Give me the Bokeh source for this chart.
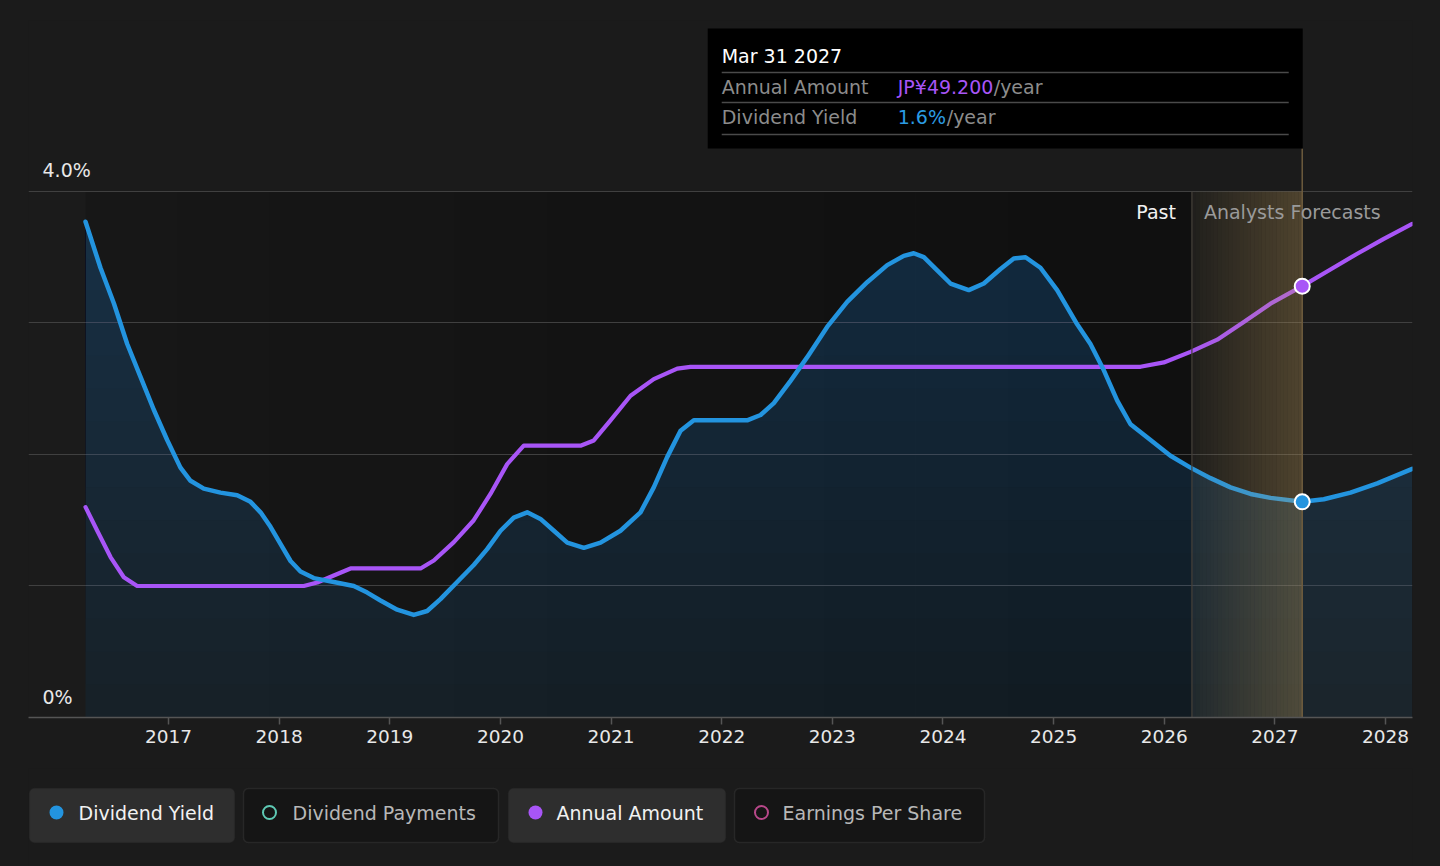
import numpy as np
from bokeh.plotting import figure
from bokeh.models import Range1d, FixedTicker, Grid, ColumnDataSource, BoxAnnotation
from bokeh.layouts import column
from bokeh.core.properties import value
from bokeh.embed import file_html
from bokeh.resources import INLINE

# ---------------- data ----------------
year_ticks = list(range(2017, 2029))
yield_ticks = [0, 1, 2, 3, 4]
yield_label_ticks = [0, 4]
yield_tick_labels = ["0%", "4.0%"]

yield_dates = [2016.250, 2016.385, 2016.506, 2016.627, 2016.747, 2016.867, 2016.988, 2017.108,
               2017.199, 2017.319, 2017.470, 2017.621, 2017.741, 2017.832, 2017.922, 2018.012,
               2018.103, 2018.193, 2018.313, 2018.494, 2018.675, 2018.796, 2018.916, 2019.067,
               2019.217, 2019.338, 2019.458, 2019.609, 2019.759, 2019.880, 2020.001, 2020.121,
               2020.242, 2020.362, 2020.483, 2020.604, 2020.754, 2020.905, 2021.085, 2021.266,
               2021.386, 2021.507, 2021.628, 2021.748, 2022.230, 2022.351, 2022.471, 2022.622,
               2022.773, 2022.953, 2023.134, 2023.315, 2023.496, 2023.646, 2023.736, 2023.827,
               2023.948, 2024.068, 2024.233, 2024.369, 2024.520, 2024.640, 2024.746, 2024.881,
               2025.032, 2025.213, 2025.333, 2025.454, 2025.575, 2025.695, 2025.876, 2026.056,
               2026.237, 2026.418, 2026.599, 2026.780, 2026.960, 2027.247, 2027.442, 2027.683,
               2027.925, 2028.241]
yield_values = [3.77, 3.42, 3.15, 2.84, 2.59, 2.34, 2.11, 1.90,
                1.80, 1.74, 1.71, 1.69, 1.64, 1.56, 1.45, 1.32,
                1.19, 1.11, 1.06, 1.03, 1.00, 0.95, 0.89, 0.82,
                0.78, 0.81, 0.90, 1.03, 1.16, 1.28, 1.42, 1.52,
                1.56, 1.51, 1.42, 1.33, 1.29, 1.33, 1.42, 1.56,
                1.75, 1.98, 2.18, 2.26, 2.26, 2.30, 2.39, 2.56,
                2.74, 2.97, 3.16, 3.31, 3.44, 3.51, 3.53, 3.50,
                3.40, 3.30, 3.25, 3.30, 3.41, 3.49, 3.50, 3.42,
                3.25, 2.99, 2.84, 2.64, 2.41, 2.23, 2.11, 1.99,
                1.90, 1.82, 1.75, 1.70, 1.67, 1.64, 1.66, 1.71,
                1.78, 1.89]

amount_dates = [2016.250, 2016.356, 2016.476, 2016.596, 2016.717, 2018.223, 2018.344, 2018.494,
                2018.645, 2019.278, 2019.398, 2019.579, 2019.759, 2019.910, 2020.061, 2020.211,
                2020.724, 2020.844, 2020.995, 2021.176, 2021.386, 2021.598, 2021.718, 2025.785,
                2025.996, 2026.237, 2026.479, 2026.719, 2026.960, 2027.247, 2027.502, 2027.744,
                2027.984, 2028.241]
amount_values = [24.0, 21.3, 18.3, 16.0, 15.0, 15.0, 15.4, 16.2,
                 17.0, 17.0, 17.9, 20.0, 22.5, 25.5, 28.9, 31.0,
                 31.0, 31.6, 33.9, 36.7, 38.6, 39.8, 40.0, 40.0,
                 40.5, 41.7, 43.1, 45.1, 47.2, 49.2, 51.1, 52.9,
                 54.6, 56.3]

past_end = 2026.25
hover_date = 2027.247
hover_label = "Mar 31 2027"

legend_labels = ["Dividend Yield", "Dividend Payments", "Annual Amount", "Earnings Per Share"]
legend_colors = ["#2394df", "#5ec9b4", "#a855f7", "#b8488a"]
legend_active = [True, False, True, False]

# ---------------- layout constants ----------------
FONT = value("DejaVu Sans")
W, H, LH = 1440, 768, 98
FRAME_W, FRAME_H = 1384, 697
X0, X1 = 2015.7346, 2028.2437
Y1 = 5.3
AMT_MAX = 60.0 * Y1 / 4.0
dxpx = (X1 - X0) / FRAME_W
dypx = Y1 / FRAME_H

BLUE = "#2394df"
PURPLE = "#a855f7"
BG = "#1b1b1b"
BGSTYLE = {"background-color": BG}

p = figure(width=W, height=H, x_range=Range1d(X0, X1), y_range=Range1d(0, Y1),
           y_axis_type=None, output_backend="svg", toolbar_location=None,
           min_border_left=28, min_border_right=28, min_border_top=20, min_border_bottom=51,
           background_fill_color=BG, border_fill_color=None, styles=BGSTYLE)
p.outline_line_color = None
p.extra_y_ranges = {"amt": Range1d(0, AMT_MAX)}

# x axis
p.xgrid.visible = False
p.xaxis.ticker = FixedTicker(ticks=year_ticks)
p.xaxis.axis_line_color = "#555555"
p.xaxis.axis_line_width = 1.5
p.xaxis.major_tick_line_color = "#555555"
p.xaxis.major_tick_line_width = 1.5
p.xaxis.major_tick_in = 0
p.xaxis.major_tick_out = 7
p.xaxis.minor_tick_line_color = None
p.xaxis.major_label_text_color = "#e8e8e8"
p.xaxis.major_label_text_font = "DejaVu Sans"
p.xaxis.major_label_text_font_size = "18.5px"
p.xaxis.major_label_standoff = 5

# y grid
grid = Grid(dimension=1, ticker=FixedTicker(ticks=yield_ticks), grid_line_color="#404040",
            grid_line_width=1.2, level="underlay")
p.add_layout(grid)

# darker "past" region (slight horizontal gradient)
n_dark = 12
d_edges = np.linspace(yield_dates[0], past_end, n_dark + 1)
shades = np.linspace(23, 16, n_dark).astype(int)
p.quad(left=d_edges[:-1], right=d_edges[1:], bottom=0, top=yield_ticks[-1],
       fill_color=["#%02x%02x%02x" % (s, s, s) for s in shades], line_color=None, level="image")

# area fill with vertical gradient
yv = np.array(yield_values)
p.varea(x=yield_dates, y1=0, y2=yield_values, fill_color=BLUE, fill_alpha=0.09)
for L in np.arange(0.25, 4.0, 0.25):
    p.varea(x=yield_dates, y1=np.minimum(yv, L), y2=yv, fill_color=BLUE, fill_alpha=0.014)

# lines
p.line(amount_dates, amount_values, y_range_name="amt", line_color=PURPLE, line_width=4.2,
       line_join="round", line_cap="round")
p.line(yield_dates, yield_values, line_color=BLUE, line_width=4.5, line_join="round", line_cap="round")

# forecast band (gradient)
n_band = 30
b_edges = np.linspace(past_end, hover_date, n_band + 1)
alphas = np.linspace(0.04, 0.30, n_band)
p.quad(left=b_edges[:-1], right=b_edges[1:], bottom=0, top=yield_ticks[-1],
       fill_color="#c9a35c", fill_alpha=alphas, line_color=None)
p.segment(x0=[past_end], x1=[past_end], y0=[0], y1=[yield_ticks[-1]], line_color="#45413a", line_width=1.2)

# tooltip geometry
tip_right = hover_date + 0.5 * dxpx
tip_left = tip_right - 595 * dxpx
tip_top = 689 * dypx
tip_bottom = 569 * dypx

# hover line
p.segment(x0=[hover_date], x1=[hover_date], y0=[0], y1=[tip_bottom], line_color="#6e5c3e", line_width=1.5)

# markers
hi_y = yield_dates.index(hover_date)
hi_a = amount_dates.index(hover_date)
p.scatter(x=[hover_date], y=[yield_values[hi_y]], size=15, fill_color=BLUE, line_color="white", line_width=2)
p.scatter(x=[hover_date], y=[amount_values[hi_a]], y_range_name="amt", size=15, fill_color=PURPLE,
          line_color="white", line_width=2)

# y labels
p.text(x=[X0] * len(yield_label_ticks), y=yield_label_ticks, text=yield_tick_labels,
       x_offset=14, y_offset=-21, text_baseline="middle", text_align="left",
       text_color="#e8e8e8", text_font=FONT, text_font_size="19px")

# past / forecast labels
p.text(x=[past_end], y=[yield_ticks[-1]], text=["Past"], x_offset=-16, y_offset=21,
       text_align="right", text_baseline="middle", text_color="#f2f2f2", text_font=FONT, text_font_size="19px")
p.text(x=[past_end], y=[yield_ticks[-1]], text=["Analysts Forecasts"], x_offset=12, y_offset=21,
       text_align="left", text_baseline="middle", text_color="#9a9a9a", text_font=FONT, text_font_size="19px")

# tooltip
p.quad(left=[tip_left], right=[tip_right], bottom=[tip_bottom], top=[tip_top], fill_color="#000000", line_color=None)
sep_px = [645, 615, 583]
p.segment(x0=[tip_left + 14 * dxpx] * 3, x1=[tip_right - 14 * dxpx] * 3,
          y0=[s * dypx for s in sep_px], y1=[s * dypx for s in sep_px], line_color="#4a4a4a", line_width=1.5)
tip_src = ColumnDataSource(dict(
    x=[tip_left] * 7, y=[tip_top] * 7,
    text=[hover_label, "Annual Amount", "JP¥%.3f" % amount_values[hi_a], "/year",
          "Dividend Yield", "%.1f%%" % yield_values[hi_y], "/year"],
    xo=[14, 14, 190, 286, 14, 190, 239],
    yo=[27, 58, 58, 58, 88, 88, 88],
    c=["#ffffff", "#8c8c8c", PURPLE, "#8c8c8c", "#8c8c8c", "#2b9be3", "#8c8c8c"],
))
p.text(x="x", y="y", text="text", x_offset="xo", y_offset="yo", text_color="c", source=tip_src,
       text_baseline="middle", text_align="left", text_font=FONT, text_font_size="19px")

# ---------------- legend ----------------
lp = figure(width=W, height=LH, x_range=Range1d(28, W - 28), y_range=Range1d(LH, 0),
            x_axis_type=None, y_axis_type=None, output_backend="svg", toolbar_location=None,
            min_border_left=28, min_border_right=28, min_border_top=0, min_border_bottom=0,
            background_fill_color=BG, border_fill_color=None, styles=BGSTYLE)
lp.outline_line_color = None
box_l = [29, 243, 508, 734]
box_r = [234, 498, 725, 984]
dot_x = [56, 269, 535, 761]
txt_x = [78, 292, 556, 782]
for i, lab in enumerate(legend_labels):
    act = legend_active[i]
    lp.add_layout(BoxAnnotation(left=box_l[i], right=box_r[i], top=20, bottom=74,
                                fill_color="#2e2e2e" if act else "#151515", fill_alpha=1.0,
                                line_color="#2e2e2e" if act else "#4d4d4d", line_width=1.5,
                                border_radius=5, level="underlay"))
    if act:
        lp.scatter(x=[dot_x[i]], y=[44], size=14, fill_color=legend_colors[i], line_color=None)
    else:
        lp.scatter(x=[dot_x[i]], y=[44], size=13, fill_color=None, line_color=legend_colors[i], line_width=2)
    lp.text(x=[txt_x[i]], y=[44], text=[lab], text_baseline="middle", text_align="left",
            text_color="#f2f2f2" if act else "#b8b8b8", text_font=FONT, text_font_size="19px")

layout = column(p, lp, styles=BGSTYLE)
open("out.html", "w").write(file_html(layout, INLINE))
